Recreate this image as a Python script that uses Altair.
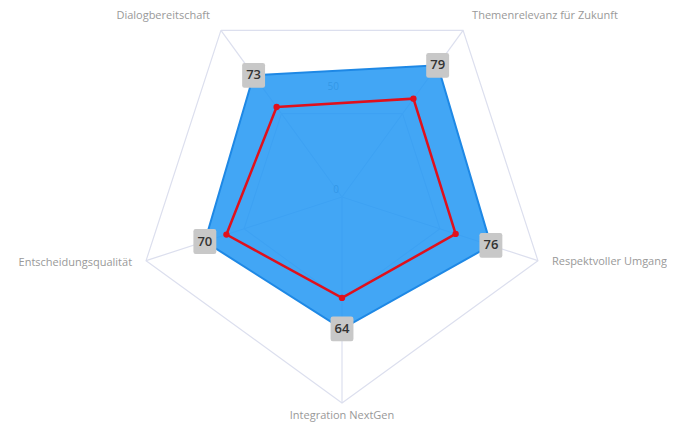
import altair as alt
import pandas as pd

categories = ["Dialogbereitschaft", "Themenrelevanz für Zukunft", "Respektvoller Umgang",
              "Integration NextGen", "Entscheidungsqualität"]
score = [73, 79, 76, 64, 70]
benchmark = [54, 59, 58, 49, 59]
grid_levels = [50, 100]
tick_values = [0, 50]

n = len(categories)

# closed polygon rows (first point repeated at the end)
poly_rows = []
for i in range(n + 1):
    k = i % n
    poly_rows.append({"idx": i, "category": categories[k], "score": score[k], "bench": benchmark[k]})
poly_df = pd.DataFrame(poly_rows)
pts_df = poly_df.iloc[:n].copy()

grid_df = pd.DataFrame([{"level": lv, "idx": i} for lv in grid_levels for i in range(n + 1)])
spoke_df = pd.DataFrame({"idx": list(range(n)), "category": categories, "level": [100] * n})
tick_df = pd.DataFrame({"tick": tick_values, "label": [str(t) for t in tick_values]})

W, H = 659, 415
CX, CY, PX = 334, 189, 2.06
xs = alt.Scale(domain=[-CX / PX, (W - CX) / PX], nice=False, zero=False)
ys = alt.Scale(domain=[-(H - CY) / PX, CY / PX], nice=False, zero=False)

def polar(chart, field):
    return chart.transform_calculate(
        theta="(-36 + 72 * datum.idx) * PI / 180"
    ).transform_calculate(
        x=f"datum.{field} * sin(datum.theta)",
        y=f"datum.{field} * cos(datum.theta)",
    )

X = alt.X("x:Q", scale=xs, axis=None)
Y = alt.Y("y:Q", scale=ys, axis=None)

grid_color = "#DCDFEE"

grid = polar(alt.Chart(grid_df), "level").mark_line(
    color=grid_color, strokeWidth=1.2
).encode(x=X, y=Y, detail="level:N", order="idx:Q")

spokes = polar(alt.Chart(spoke_df), "level").transform_calculate(x0="0", y0="0").mark_rule(
    color=grid_color, strokeWidth=1.2
).encode(x=alt.X("x0:Q", scale=xs, axis=None), y=alt.Y("y0:Q", scale=ys, axis=None),
         x2="x:Q", y2="y:Q")

ticks = alt.Chart(tick_df).transform_calculate(x="0", y="datum.tick").mark_text(
    align="right", baseline="middle", dx=-3, dy=-7, fontSize=10, color="#9a9a9a", font="Open Sans"
).encode(x=X, y=Y, text="label:N")

area = polar(alt.Chart(poly_df), "score").mark_line(
    fill="#2196F3", fillOpacity=0.85, stroke="#1E88E5", strokeWidth=2, strokeJoin="miter"
).encode(x=X, y=Y, order="idx:Q")

bench_line = polar(alt.Chart(poly_df), "bench").mark_line(
    color="#E0101C", strokeWidth=2.5
).encode(x=X, y=Y, order="idx:Q")

bench_pts = polar(alt.Chart(pts_df), "bench").mark_point(
    shape="circle", filled=True, size=40, color="#E0101C", opacity=1
).encode(x=X, y=Y)

box_path = ("M-0.74,-1 L0.74,-1 Q0.92,-1 0.92,-0.82 L0.92,0.82 Q0.92,1 0.74,1 "
            "L-0.74,1 Q-0.92,1 -0.92,0.82 L-0.92,-0.82 Q-0.92,-1 -0.74,-1 Z")
boxes = polar(alt.Chart(pts_df), "score").mark_point(
    shape=box_path, filled=True, size=620, color="#C8C8C8", opacity=1
).encode(x=X, y=Y)

box_text = polar(alt.Chart(pts_df), "score").mark_text(
    fontSize=13, fontWeight=600, color="#333333", font="Open Sans", baseline="middle"
).encode(x=X, y=Y, text="score:Q")

label_specs = [
    ("right", -11, -14),
    ("left", 9, -14),
    ("left", 14, 1),
    ("center", 0, 13),
    ("right", -14, 2),
]
label_layers = []
for cat, (al, dx, dy) in zip(categories, label_specs):
    label_layers.append(
        polar(alt.Chart(spoke_df), "level").transform_filter(alt.datum.category == cat).mark_text(
            align=al, baseline="middle", dx=dx, dy=dy, fontSize=11, color="#999999", font="Open Sans"
        ).encode(x=X, y=Y, text="category:N")
    )

chart = alt.layer(
    grid, spokes, ticks, area, bench_line, bench_pts, boxes, box_text, *label_layers
).properties(
    width=W, height=H, autosize=alt.AutoSizeParams(type="none"), padding=0
).configure_view(stroke=None)

chart.save("out.html", embed_options={"renderer": "svg", "actions": False})
